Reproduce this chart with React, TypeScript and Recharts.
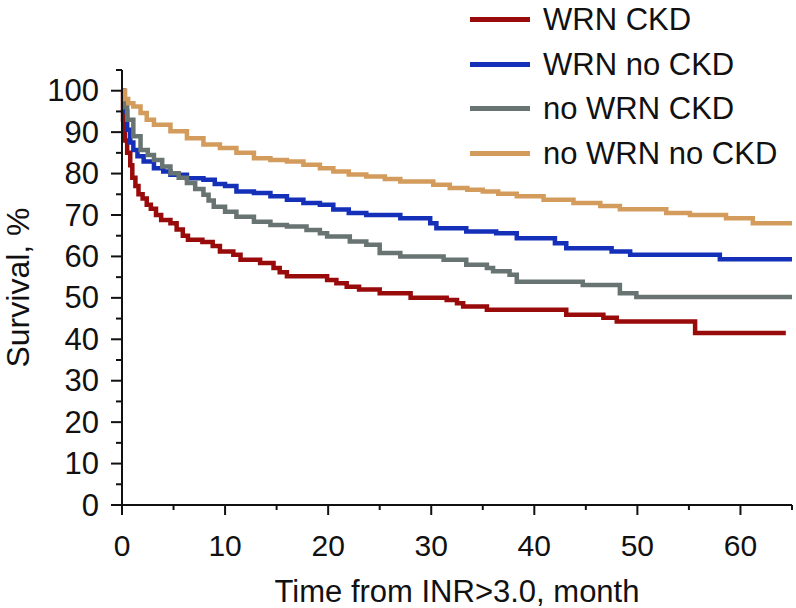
import React from 'react';
import { LineChart, Line, XAxis, YAxis, Legend, Label } from 'recharts';

// Kaplan-Meier readings: month -> survival %
const wrnCkdMonths = [0, 0.1, 0.3, 0.5, 0.8, 1.0, 1.3, 1.6, 2.0, 2.4, 2.8, 3.3, 3.8, 4.7, 5.3, 5.9, 6.4, 7.8, 8.8, 9.5, 10.8, 11.5, 13.4, 14.7, 15.3, 16, 19.9, 20.8, 21.8, 23, 25, 28, 31.5, 32.5, 33.1, 35.4, 43.1, 46.7, 48, 55.6, 64.4];
const wrnCkdSurvival = [100, 93, 88, 85, 82, 79, 77, 75, 74, 72.5, 71.5, 70, 68.8, 68, 66.5, 65, 64, 63.5, 62.5, 61.2, 60.4, 59.2, 58.4, 57.2, 56.2, 55.2, 54.3, 53.5, 52.7, 52, 51.1, 50, 49.5, 48.7, 47.9, 47.1, 45.9, 45.2, 44.3, 41.5, 41.5];

const wrnNoCkdMonths = [0, 0.2, 0.5, 0.8, 1.1, 1.5, 2.1, 3.1, 4, 4.7, 6.3, 7.9, 9, 10, 11.1, 12.8, 14.4, 16, 17.6, 19.2, 20.5, 22, 23.7, 27, 29.9, 30.5, 33.4, 36.3, 38.3, 42, 43.1, 47.5, 49.3, 58, 65];
const wrnNoCkdSurvival = [100, 95, 90.6, 87.5, 85.7, 84.2, 82.9, 81.3, 80.5, 79.7, 78.9, 78.5, 77.5, 77, 75.7, 75.3, 74.5, 73.7, 72.9, 72.5, 71.3, 70.5, 70, 69.2, 68, 66.8, 66, 65.6, 64.4, 63.2, 62, 61.2, 60.4, 59.3, 59.3];

const noWrnCkdMonths = [0, 0.2, 0.5, 1.1, 1.8, 2.5, 3.1, 3.9, 4.7, 5.5, 6.3, 7.1, 7.9, 8.4, 8.9, 10, 11.1, 12.8, 14.4, 16, 17.9, 19.2, 19.9, 22.1, 23.7, 25, 27, 31.2, 33.4, 35.4, 36, 37.6, 38.3, 44.7, 48.3, 49.9, 65];
const noWrnCkdSurvival = [100, 96, 93, 89, 85.7, 84.5, 83.3, 81.7, 80.1, 79, 77.7, 76.3, 74.9, 73.5, 72, 70.8, 69.6, 68.4, 67.6, 67.2, 66.4, 65.6, 64.8, 63.6, 62.8, 60.8, 60, 59.2, 58, 57.2, 56.4, 55.6, 53.9, 53.1, 51.1, 50.2, 50.2];

const noWrnNoCkdMonths = [0, 0.3, 0.6, 1.1, 1.8, 2.4, 3.1, 4.7, 6.3, 7.9, 9.5, 11.1, 12.8, 14.4, 16, 17.6, 19.2, 20.5, 22, 23.7, 25.5, 27, 30.2, 31.8, 33.5, 35, 36.5, 38.3, 40.9, 43.8, 46.4, 48.3, 52.8, 55.1, 58.6, 61.2, 65];
const noWrnNoCkdSurvival = [100, 98, 97, 96.2, 94.6, 93, 91.8, 90.2, 88.5, 87, 86.2, 85, 83.7, 83.3, 82.9, 82.1, 81.3, 80.5, 79.8, 79.3, 78.7, 78.1, 77.3, 76.5, 76.1, 75.7, 75.1, 74.5, 73.7, 72.9, 72.2, 71.4, 70.5, 70, 69.2, 68, 68];

const xTicks = [0, 5, 10, 15, 20, 25, 30, 35, 40, 45, 50, 55, 60, 65];
const yTicks = [0, 5, 10, 15, 20, 25, 30, 35, 40, 45, 50, 55, 60, 65, 70, 75, 80, 85, 90, 95, 100, 105];

const toPoints = (months: number[], surv: number[]) =>
  months.map((m, i) => ({ month: m, survival: surv[i] }));

const series = [
  { name: 'WRN CKD', color: '#990a0a', data: toPoints(wrnCkdMonths, wrnCkdSurvival) },
  { name: 'WRN no CKD', color: '#1530b8', data: toPoints(wrnNoCkdMonths, wrnNoCkdSurvival) },
  { name: 'no WRN CKD', color: '#687472', data: toPoints(noWrnCkdMonths, noWrnCkdSurvival) },
  { name: 'no WRN no CKD', color: '#d39c5c', data: toPoints(noWrnNoCkdMonths, noWrnNoCkdSurvival) },
];

const FONT = '"Liberation Sans", Arial, sans-serif';

const XTick = (props: any) => {
  const { x, y, payload } = props;
  const major = payload.value % 10 === 0;
  return (
    <g>
      <line x1={x} x2={x} y1={y} y2={y + (major ? 10 : 5)} stroke="#111" strokeWidth={2} />
      {major && (
        <text x={x} y={y + 40} textAnchor="middle" dominantBaseline="central" fontSize={30} fontFamily={FONT} fill="#111">
          {payload.value}
        </text>
      )}
    </g>
  );
};

const YTick = (props: any) => {
  const { x, y, payload } = props;
  const v = payload.value;
  const major = v % 10 === 0 && v <= 100;
  return (
    <g>
      <line x1={x - (major ? 11 : 6)} x2={x} y1={y} y2={y} stroke="#111" strokeWidth={2} />
      {major && (
        <text x={x - 23} y={y} textAnchor="end" dominantBaseline="central" fontSize={31} fontFamily={FONT} fill="#111">
          {v}
        </text>
      )}
    </g>
  );
};

const LegendBox = (props: any) => {
  const { payload } = props;
  return (
    <div style={{ fontFamily: FONT, fontSize: 31, color: '#111' }}>
      {payload.map((p: any) => (
        <div key={p.value} style={{ display: 'flex', alignItems: 'center', height: 44.7 }}>
          <div style={{ width: 60, height: 5, background: p.color, marginRight: 13 }} />
          <span style={{ lineHeight: 1 }}>{p.value}</span>
        </div>
      ))}
    </div>
  );
};

export default function App() {
  return (
    <div style={{ position: 'absolute', left: 0, top: 0, background: '#fff' }}>
      <LineChart width={796} height={608} margin={{ top: 70, right: 4, left: 0, bottom: 0 }}>
        <XAxis
          type="number"
          dataKey="month"
          domain={[0, 65]}
          ticks={xTicks}
          interval={0}
          tick={<XTick />}
          tickLine={false}
          tickSize={0}
          tickMargin={0}
          height={103}
          axisLine={{ stroke: '#111', strokeWidth: 2 }}
          allowDuplicatedCategory={false}
        >
          <Label
            content={({ viewBox }: any) => (
              <text
                x={viewBox.x + viewBox.width / 2}
                y={viewBox.y + 86}
                textAnchor="middle"
                dominantBaseline="central"
                fontSize={31}
                fontFamily={FONT}
                fill="#111"
              >
                Time from INR&gt;3.0, month
              </text>
            )}
          />
        </XAxis>
        <YAxis
          type="number"
          domain={[0, 105]}
          ticks={yTicks}
          interval={0}
          tick={<YTick />}
          tickLine={false}
          tickSize={0}
          tickMargin={0}
          width={122}
          axisLine={{ stroke: '#111', strokeWidth: 2 }}
        >
          <Label
            content={({ viewBox }: any) => {
              const cx = viewBox.x + 18;
              const cy = viewBox.y + viewBox.height / 2;
              return (
                <text
                  x={cx}
                  y={cy}
                  transform={`rotate(-90, ${cx}, ${cy})`}
                  textAnchor="middle"
                  dominantBaseline="central"
                  fontSize={32}
                  fontFamily={FONT}
                  fill="#111"
                >
                  Survival, %
                </text>
              );
            }}
          />
        </YAxis>
        <Legend
          layout="vertical"
          align="center"
          verticalAlign="middle"
          content={<LegendBox />}
          wrapperStyle={{ top: -3, left: 470, width: 326 }}
        />
        {series.map((s) => (
          <Line
            key={s.name}
            name={s.name}
            data={s.data}
            dataKey="survival"
            type="stepAfter"
            stroke={s.color}
            strokeWidth={4.5}
            dot={false}
            activeDot={false}
            isAnimationActive={false}
          />
        ))}
      </LineChart>
    </div>
  );
}
